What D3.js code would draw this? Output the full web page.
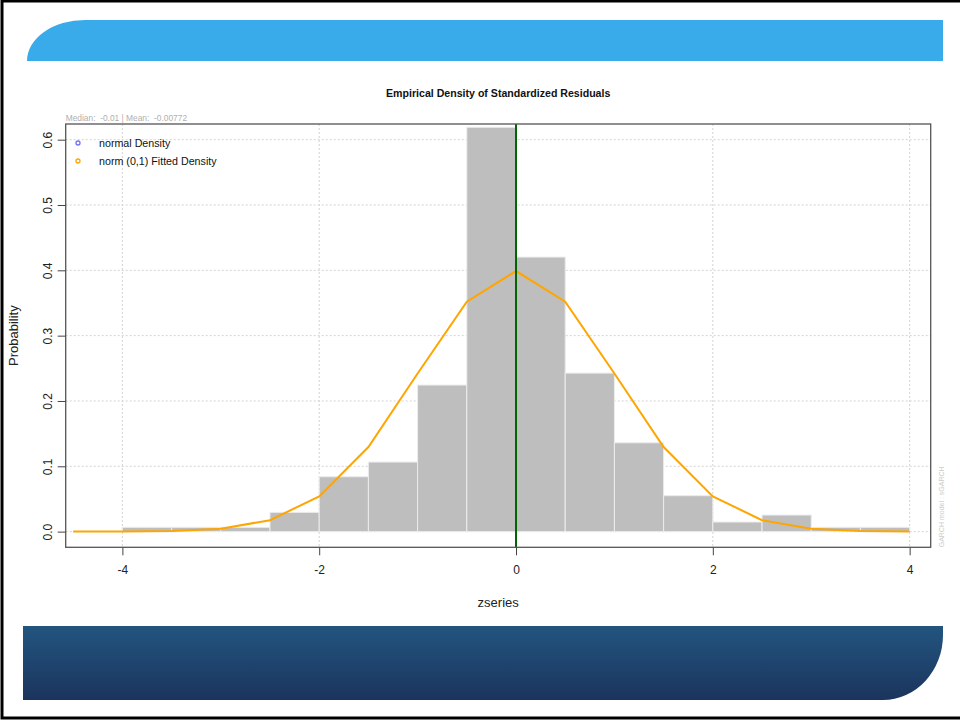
<!DOCTYPE html>
<html>
<head>
<meta charset="utf-8">
<script src="https://cdn.jsdelivr.net/npm/d3@7"></script>
<style>
  body { margin: 0; background: #fff; }
  svg { display: block; }
  text { font-family: Arial, "Liberation Sans", Helvetica, sans-serif; }
</style>
</head>
<body>
<svg id="chart" width="960" height="721"></svg>
<script>
// Histogram bins (left edge, width 0.5) and their density heights
const binStarts  = [-4.5, -4.0, -3.5, -3.0, -2.5, -2.0, -1.5, -1.0, -0.5, 0.0, 0.5, 1.0, 1.5, 2.0, 2.5, 3.0, 3.5];
const binDensity = [0.0, 0.0066, 0.0066, 0.0066, 0.0295, 0.084, 0.1065, 0.2244, 0.619, 0.4203, 0.2427, 0.136, 0.055, 0.0147, 0.0254, 0.0066, 0.0066];
const binWidth = 0.5;

// Fitted N(0,1) density evaluated at the bin breaks
const curveX = [-4.5, -4.0, -3.5, -3.0, -2.5, -2.0, -1.5, -1.0, -0.5, 0.0, 0.5, 1.0, 1.5, 2.0, 2.5, 3.0, 3.5, 4.0];
const curveY = [0.0000, 0.0001, 0.0009, 0.0044, 0.0175, 0.0540, 0.1295, 0.2420, 0.3521, 0.3989, 0.3521, 0.2420, 0.1295, 0.0540, 0.0175, 0.0044, 0.0009, 0.0001];

const xTicks = [-4, -2, 0, 2, 4];
const yTicks = [0.0, 0.1, 0.2, 0.3, 0.4, 0.5, 0.6];
const refLineX = 0;

const titleText = "Empirical Density of Standardized Residuals";
const statsText = "Median:  -0.01 | Mean:  -0.00772";
const legendLabels = ["normal Density", "norm (0,1) Fitted Density"];
const legendColors = ["#6f6fff", "#ffa500"];

const svg = d3.select("#chart");

// Page frame
svg.append("rect")
  .attr("x", 2).attr("y", 1).attr("width", 975).attr("height", 717)
  .attr("fill", "none").attr("stroke", "#000").attr("stroke-width", 3);

// Top banner
svg.append("path")
  .attr("d", "M27,61 A58,41 0 0 1 85,20 L943,20 L943,61 Z")
  .attr("fill", "#3aabea");

// Bottom banner with vertical gradient
const defs = svg.append("defs");
const grad = defs.append("linearGradient").attr("id", "footGrad")
  .attr("x1", 0).attr("y1", 0).attr("x2", 0).attr("y2", 1);
grad.append("stop").attr("offset", "0%").attr("stop-color", "#22557f");
grad.append("stop").attr("offset", "100%").attr("stop-color", "#1b345d");
svg.append("path")
  .attr("d", "M23,626 L943,626 L943,635 A60,65 0 0 1 883,700 L23,700 Z")
  .attr("fill", "url(#footGrad)");

// Plot region
const pLeft = 65.7, pRight = 930.7, pTop = 124, pBottom = 547.3;
const x = d3.scaleLinear().domain([-4.576, 4.214]).range([pLeft, pRight]);
const y = d3.scaleLinear().domain([-0.024, 0.624]).range([pBottom, pTop]);

const plot = svg.append("g");

// Grid
plot.selectAll("line.gx").data(xTicks).join("line")
  .attr("x1", d => x(d)).attr("x2", d => x(d))
  .attr("y1", pTop).attr("y2", pBottom)
  .attr("stroke", "#d3d3d3").attr("stroke-width", 1).attr("stroke-dasharray", "2,2");
plot.selectAll("line.gy").data(yTicks).join("line")
  .attr("x1", pLeft).attr("x2", pRight)
  .attr("y1", d => y(d)).attr("y2", d => y(d))
  .attr("stroke", "#d3d3d3").attr("stroke-width", 1).attr("stroke-dasharray", "2,2");

// Histogram bars
plot.selectAll("rect.bar").data(binStarts.map((s, i) => ({ s, v: binDensity[i] })))
  .join("rect")
  .attr("x", d => x(d.s))
  .attr("width", d => x(d.s + binWidth) - x(d.s))
  .attr("y", d => y(d.v))
  .attr("height", d => y(0) - y(d.v))
  .attr("fill", "#bebebe")
  .attr("stroke", "#ececec")
  .attr("stroke-width", 1);

// Fitted density curve
plot.append("path")
  .datum(curveX.map((cx, i) => [cx, curveY[i]]))
  .attr("d", d3.line().x(d => x(d[0])).y(d => y(d[1])))
  .attr("fill", "none").attr("stroke", "#ffa500").attr("stroke-width", 2);

// Reference line at zero
plot.append("line")
  .attr("x1", x(refLineX)).attr("x2", x(refLineX))
  .attr("y1", pTop).attr("y2", pBottom)
  .attr("stroke", "#006400").attr("stroke-width", 2);

// Box
svg.append("rect")
  .attr("x", pLeft).attr("y", pTop).attr("width", pRight - pLeft).attr("height", pBottom - pTop)
  .attr("fill", "none").attr("stroke", "#555").attr("stroke-width", 1.3);

// X axis (plain hyphen minus signs)
const xAxis = d3.axisBottom(x).tickValues(xTicks).tickSize(8).tickPadding(10).tickFormat(d => String(d));
const gx = svg.append("g").attr("transform", `translate(0,${pBottom})`).call(xAxis);
gx.select(".domain").remove();
gx.selectAll(".tick line").attr("stroke", "#444");
gx.selectAll(".tick text").attr("font-size", 12).attr("fill", "#222")
  .attr("font-family", "Arial, 'Liberation Sans', sans-serif");

// Y axis (labels parallel to the axis)
const yAxis = d3.axisLeft(y).tickValues(yTicks).tickSize(8).tickFormat(d => d.toFixed(1));
const gy = svg.append("g").attr("transform", `translate(${pLeft},0)`).call(yAxis);
gy.select(".domain").remove();
gy.selectAll(".tick line").attr("stroke", "#444");
gy.selectAll(".tick text")
  .attr("font-size", 12).attr("fill", "#222")
  .attr("font-family", "Arial, 'Liberation Sans', sans-serif")
  .attr("x", 0).attr("dy", 0)
  .attr("text-anchor", "middle")
  .attr("transform", "translate(-18,0) rotate(-90)")
  .attr("dominant-baseline", "central");

// Titles and labels
svg.append("text").attr("x", (pLeft + pRight) / 2).attr("y", 97)
  .attr("text-anchor", "middle").attr("font-size", 10.6).attr("font-weight", "bold")
  .attr("fill", "#111").text(titleText);

svg.append("text").attr("x", pLeft).attr("y", 121)
  .attr("font-size", 8.4).attr("fill", "#b0b0b0")
  .style("white-space", "pre").text(statsText);

svg.append("text").attr("x", (pLeft + pRight) / 2).attr("y", 607)
  .attr("text-anchor", "middle").attr("font-size", 13).attr("fill", "#222").text("zseries");

svg.append("text")
  .attr("transform", `translate(18,${(pTop + pBottom) / 2}) rotate(-90)`)
  .attr("text-anchor", "middle").attr("font-size", 13).attr("fill", "#222").text("Probability");

svg.append("text")
  .attr("transform", `translate(944,${pBottom}) rotate(-90)`)
  .attr("text-anchor", "start").attr("font-size", 7).attr("fill", "#cccccc")
  .text("GARCH model : sGARCH");

// Legend
const leg = svg.append("g");
legendLabels.forEach((lab, i) => {
  const ly = 143 + i * 18;
  leg.append("circle").attr("cx", 78).attr("cy", ly).attr("r", 2)
    .attr("fill", "none").attr("stroke", legendColors[i]).attr("stroke-width", 1.3);
  leg.append("text").attr("x", 99).attr("y", ly + 4)
    .attr("font-size", 10.7).attr("fill", "#111").text(lab);
});
</script>
</body>
</html>
